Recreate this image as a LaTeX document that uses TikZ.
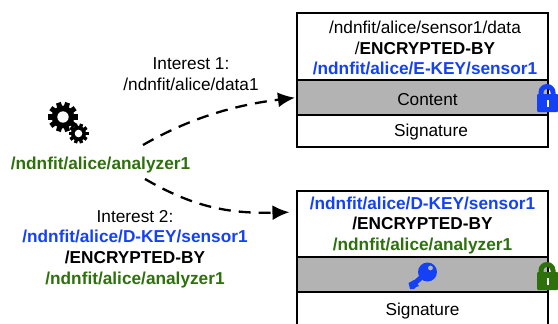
\documentclass[tikz,border=0pt]{standalone}
\usepackage{fontspec}
\setmainfont{Liberation Sans}
\usetikzlibrary{arrows.meta,positioning}
\definecolor{keyblue}{RGB}{20,65,245}
\definecolor{keygreen}{RGB}{45,112,12}
\definecolor{boxgray}{RGB}{179,179,179}
\newcommand{\lowr}{\rule{0pt}{15.5pt}}
\tikzstyle{lbl}=[align=center,inner sep=0pt,font=\fontsize{17.25}{20.8}\selectfont]
\tikzstyle{part}=[draw=black,line width=1.1pt,minimum width=251pt,inner sep=0pt,align=center,font=\fontsize{17.25}{20.8}\selectfont]
\tikzstyle{req}=[-{Latex[length=17pt,width=15pt]},line width=2.3pt,dash pattern=on 12pt off 8pt]
\tikzset{
  lockicon/.pic={
    \draw[line width=5pt,draw=#1] (-6.5,2) -- (-6.5,-1.5) arc[start angle=180,end angle=360,radius=6] -- (5.5,2);
    \fill[#1,rounded corners=1pt] (-10.5,0) rectangle (10.5,18);
    \fill[white] (-1,6) rectangle (1,13);
  },
  gearicon/.pic={
    \foreach \a in {0,36,...,324}
      \fill[black,rotate=\a+18] (-#1*0.17,#1*0.65) rectangle (#1*0.17,#1);
    \fill[black] (0,0) circle[radius=#1*0.76];
    \fill[white] (0,0) circle[radius=#1*0.38];
  }
}
\begin{document}
\begin{tikzpicture}[x=1pt,y=-1pt]
\useasboundingbox (0,0) rectangle (558,324);
\clip (0,0) rectangle (558,324);
% left side
\node[lbl,text=keygreen,font=\fontsize{17.25}{20.8}\selectfont\bfseries] (A) at (100.5,165) {/ndnfit/alice/analyzer1};
\pic at (63,117) {gearicon=15};
\pic at (78.5,133.5) {gearicon=10};
\node[lbl] (I1) at (191,74.5) {Interest 1:\\/ndnfit/alice/data1};
\node[lbl] (I2) at (135,249) {Interest 2:\\\textcolor{keyblue}{\bfseries /ndnfit/alice/D-KEY/sensor1}\\\textbf{/ENCRYPTED-BY}\\\textcolor{keygreen}{\bfseries /ndnfit/alice/analyzer1}};
% upper packet
\node[part,minimum height=67pt] (N1) at (422.5,46.5) {\lowr\hspace*{5pt}/ndnfit/alice/sensor1/data\\\hspace*{5pt}/\textbf{ENCRYPTED-BY}\\\hspace*{5pt}\textcolor{keyblue}{\bfseries /ndnfit/alice/E-KEY/sensor1}};
\node[part,fill=boxgray,minimum height=35pt] (C1) at (422.5,97.5) {\lowr\hspace*{10pt}Content};
\node[part,minimum height=32pt] (S1) at (422.5,131) {\lowr\hspace*{17pt}Signature};
\pic at (547.5,94) {lockicon=keyblue};
% lower packet
\node[part,minimum height=66pt] (N2) at (422.5,224) {\lowr\textcolor{keyblue}{\bfseries /ndnfit/alice/D-KEY/sensor1}\\\textbf{/ENCRYPTED-BY}\\\textcolor{keygreen}{\bfseries /ndnfit/alice/analyzer1}};
\node[part,fill=boxgray,minimum height=35pt] (C2) at (422.5,274.5) {};
\node[part,minimum height=40pt,anchor=north] (S2) at (422.5,292) {};
\node[lbl] (S2t) at (422.5,311) {Signature};
\pic at (547.5,272) {lockicon=keygreen};
% key
\coordinate (K) at (427.5,272);
\draw[keyblue,line width=5pt] (K) -- (412.5,285);
\fill[keyblue] (408.5,283) -- (414,280) -- (419,286) -- (416,287) -- (414,289) -- (410,289) -- cycle;
\fill[keyblue] (K) circle[radius=9.5];
\fill[boxgray] (430.5,268) circle[radius=2.4];
% requests
\coordinate (P1) at (143,145);
\coordinate (P2) at (145,179);
\coordinate (T2) at (N2.west);
\draw[req,shorten >=1.5pt] (P1) .. controls (190,118) and (235,105) .. (C1.west);
\draw[req,shorten >=7pt] (P2) .. controls (190,205) and (225,214) .. ([yshift=12pt]T2);
\end{tikzpicture}
\end{document}
